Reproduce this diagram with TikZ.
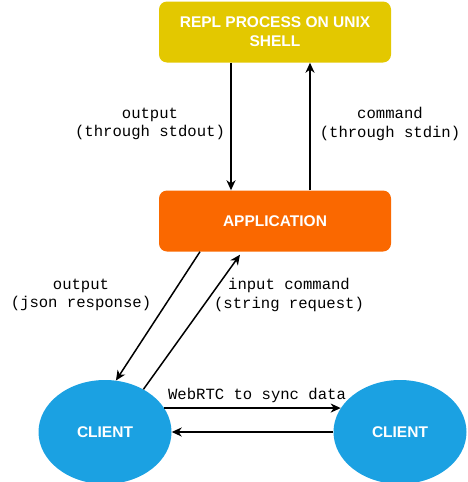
\documentclass[tikz,border=0pt]{standalone}
\usepackage{fontspec}
\setmainfont{Liberation Sans}
\newfontfamily\monof{Liberation Mono}
\usetikzlibrary{shapes.geometric,arrows.meta}
\definecolor{ylw}{HTML}{E3C800}
\definecolor{org}{HTML}{FA6800}
\definecolor{blu}{HTML}{1BA1E2}
\tikzset{
  box/.style={rectangle, rounded corners=8pt, draw=none, minimum width=232pt, minimum height=61pt, inner sep=0pt,
    text=white, font=\fontsize{15.5pt}{19pt}\selectfont\bfseries, align=center},
  client/.style={ellipse, fill=blu, draw=none, minimum width=133pt, minimum height=104pt, inner sep=0pt,
    text=white, font=\fontsize{15.5pt}{19pt}\selectfont\bfseries},
  lbl/.style={font=\monof\fontsize{15.6pt}{18.5pt}\selectfont, align=center, inner sep=0pt},
  arr/.style={line width=1.5pt, -{Stealth[length=10pt,width=9pt,inset=3pt]}}
}
\begin{document}
\begin{tikzpicture}[x=1pt,y=-1pt]
\useasboundingbox (0,0) rectangle (467,482);
\node[box, fill=ylw] (repl) at (275,32) {REPL PROCESS ON UNIX\\SHELL};
\node[box, fill=org] (app) at (275,221) {APPLICATION};
\node[client] (lc) at (105,432) {CLIENT};
\node[client] (rc) at (400,432) {CLIENT};

\draw[arr] ([xshift=-44pt]repl.south) -- ([xshift=-44pt]app.north);
\draw[arr] ([xshift=35pt]app.north) -- ([xshift=35pt]repl.south);
\draw[arr] ([xshift=-75pt]app.south) -- (lc.78);
\draw[arr] (lc.48) -- ([xshift=-35pt,yshift=-3pt]app.south);
\draw[arr] (lc.22) -- (rc.158);
\draw[arr] (rc.west) -- (lc.east);

\node[lbl] (l1) at (150,124) {output\\(through stdout)};
\node[lbl] (l2) at (390,124) {command\\(through stdin)};
\node[lbl] (l3) at (81,295) {output\\(json response)};
\node[lbl] (l4) at (289,295) {input command\\(string request)};
\node[lbl] (l5) at (257,395) {WebRTC to sync data};
\end{tikzpicture}
\end{document}
